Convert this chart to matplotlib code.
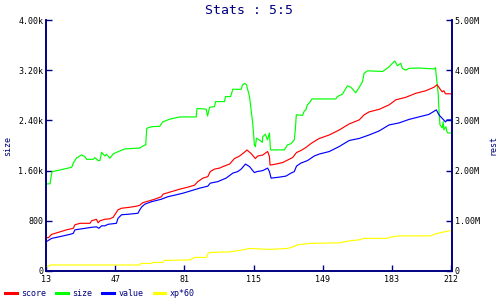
import matplotlib
matplotlib.use("Agg")
import matplotlib.pyplot as plt

navy = "#000080"

size_x = [13, 15, 15.8, 16, 19.9, 24.8, 25.7, 26.4, 28, 30.5, 32.1, 32.9, 36.2, 37, 38.6, 39.5,
          40.3, 41.9, 42.7, 44.4, 46, 48.4, 51.7, 59.1, 61.5, 62, 62.5, 64.9, 68.9, 70.3, 73.8,
          78.7, 86.8, 87.2, 91.7, 92.4, 93.4, 95.8, 96.3, 100.7, 101.2, 103.7, 104.8, 108.9,
          109.5, 110.5, 111.5, 113, 113.8, 114.6, 115.4, 115.9, 116.4, 117.9, 119.3, 119.5,
          120.8, 121.8, 122.8, 123.3, 130.1, 130.9, 131.6, 133.4, 135, 135.5, 136, 139.1,
          139.9, 140.7, 141.4, 142.4, 143.7, 155.4, 156.2, 158.7, 161.1, 162.8, 165.2, 166,
          168.5, 169.3, 171, 178.3, 180, 181.6, 182.9, 184.4, 185.7, 186.5, 187.3, 188.1,
          189.7, 191.4, 196.3, 203.6, 204.4, 204.8, 205.7, 206.1, 206.6, 207.7, 208.2, 208.5,
          209.5, 210, 210.5, 212]
size_y = [1387, 1390, 1560, 1583, 1610, 1647, 1655, 1720, 1800, 1850, 1822, 1780, 1780, 1806,
          1760, 1760, 1892, 1833, 1860, 1797, 1865, 1902, 1945, 1960, 2008, 2010, 2275, 2300,
          2306, 2375, 2420, 2455, 2455, 2590, 2580, 2470, 2610, 2620, 2700, 2700, 2780, 2780,
          2896, 2896, 2960, 2990, 2970, 2780, 2566, 2350, 2008, 1980, 2115, 2090, 2050, 2140,
          2180, 2090, 2200, 1930, 1930, 1970, 2008, 2030, 2090, 2250, 2490, 2480, 2550, 2570,
          2646, 2680, 2742, 2742, 2780, 2820, 2950, 2930, 2840, 2880, 3015, 3150, 3190, 3180,
          3215, 3255, 3300, 3347, 3270, 3290, 3310, 3230, 3200, 3230, 3235, 3220, 3240, 3100,
          2830, 2560, 2330, 2280, 2380, 2250, 2300, 2220, 2200, 2200]

score_x = [13, 14.1, 15.8, 19.9, 23.1, 26.4, 27.2, 29.7, 34.6, 35.4, 37.8, 38.6, 39.5, 41.9,
           44.4, 46, 48.4, 50.1, 54.2, 57.4, 59.1, 60.5, 64.8, 66.4, 69.7, 70.5, 72.9, 75.4,
           78.7, 82.7, 86, 87.6, 90.1, 92.5, 93.7, 95.8, 98.3, 99.9, 103.2, 105.6, 108.1,
           109.7, 111.8, 113.8, 115.9, 117, 119.5, 121.9, 122.8, 123.1, 126, 129.3, 131.7,
           134.2, 136.1, 138.3, 140.7, 143.2, 145.6, 147.3, 152.2, 157.1, 162, 166.9, 169.3,
           171.8, 176.7, 181.6, 184.9, 189.8, 194.7, 199.6, 203.6, 205.2, 206.9, 207.7, 208.5,
           209.3, 212]
score_y = [0.67, 0.66, 0.73, 0.78, 0.82, 0.85, 0.92, 0.95, 0.95, 1.00, 1.03, 0.96, 1.00, 1.03,
           1.04, 1.07, 1.22, 1.25, 1.27, 1.29, 1.31, 1.36, 1.41, 1.43, 1.48, 1.53, 1.56, 1.59,
           1.63, 1.67, 1.71, 1.78, 1.85, 1.88, 1.98, 2.03, 2.05, 2.08, 2.13, 2.24, 2.29, 2.34,
           2.41, 2.34, 2.24, 2.29, 2.31, 2.38, 2.28, 2.11, 2.13, 2.16, 2.21, 2.26, 2.36, 2.40,
           2.46, 2.54, 2.60, 2.64, 2.71, 2.81, 2.93, 3.01, 3.11, 3.17, 3.22, 3.31, 3.41, 3.46,
           3.54, 3.59, 3.66, 3.71, 3.61, 3.57, 3.59, 3.53, 3.53]

value_x = [13, 15.8, 18.2, 21.5, 24.8, 26.4, 27.2, 30.5, 35.4, 37.8, 39, 40.3, 41.9, 43.5,
           47.6, 48.4, 50.1, 53.3, 58.2, 59.1, 59.9, 61.5, 64.8, 69.7, 72.9, 76.2, 80.3, 83.6,
           88.5, 92.5, 93.7, 97.4, 101.5, 104.8, 107.2, 108.9, 111, 113, 115.4, 116.6, 119.5,
           121.9, 122.8, 123.6, 127.7, 130.9, 133.4, 135, 136.1, 138.3, 141.5, 144.8, 147.3,
           152.2, 157.1, 162, 166.9, 171.8, 176.7, 181.6, 186.5, 191.4, 196.3, 201.2, 204.8,
           206.1, 207.7, 209.3, 210.1, 212]
value_y = [0.58, 0.65, 0.67, 0.70, 0.73, 0.75, 0.82, 0.84, 0.87, 0.88, 0.85, 0.90, 0.90, 0.93,
           0.95, 1.05, 1.12, 1.13, 1.15, 1.22, 1.27, 1.33, 1.38, 1.43, 1.48, 1.51, 1.55, 1.59,
           1.65, 1.69, 1.75, 1.78, 1.85, 1.95, 1.98, 2.03, 2.13, 2.08, 1.96, 1.98, 2.00, 2.05,
           1.98, 1.85, 1.87, 1.89, 1.95, 1.98, 2.09, 2.15, 2.20, 2.29, 2.33, 2.38, 2.48, 2.60,
           2.64, 2.71, 2.79, 2.91, 2.95, 3.02, 3.07, 3.12, 3.21, 3.11, 3.04, 2.97, 3.01, 3.01]

xp_x = [13, 14, 15, 59.1, 59.6, 64.8, 65.3, 70.5, 71, 83.6, 86, 91.9, 92.5, 93.4, 103.2, 109.7,
        113, 122.8, 131.8, 134.2, 136.7, 142.4, 157.1, 162, 166.9, 169.3, 180.7, 181.6, 186.5,
        202, 204.4, 207.7, 211, 212]
xp_y = [0.09, 0.09, 0.12, 0.12, 0.15, 0.15, 0.17, 0.17, 0.21, 0.22, 0.27, 0.27, 0.34, 0.37,
        0.38, 0.42, 0.45, 0.43, 0.45, 0.48, 0.52, 0.55, 0.56, 0.60, 0.62, 0.65, 0.65, 0.67,
        0.70, 0.70, 0.74, 0.77, 0.80, 0.80]

x_ticks = [13, 47, 81, 115, 149, 183, 212]
left_ticks = [0, 800, 1600, 2400, 3200, 4000]
left_labels = ["0", "800", "1.60k", "2.40k", "3.20k", "4.00k"]
right_ticks = [0, 1, 2, 3, 4, 5]
right_labels = ["0", "1.00M", "2.00M", "3.00M", "4.00M", "5.00M"]

plt.rcParams['font.family'] = ['DejaVu Sans Mono']

fig = plt.figure(figsize=(5, 3), dpi=100)
ax = fig.add_axes([0.092, 0.0967, 0.812, 0.8366])
ax2 = ax.twinx()

lw = 0.85
l_size, = ax.plot(size_x, size_y, color="#00ff00", lw=lw, label="size")
l_score, = ax2.plot(score_x, score_y, color="#ff0000", lw=lw, label="score")
l_value, = ax2.plot(value_x, value_y, color="#0000ff", lw=lw, label="value")
l_xp, = ax2.plot(xp_x, xp_y, color="#ffff00", lw=lw, label="xp*60")

ax.set_xlim(13, 212.5)
ax.set_ylim(0, 4000)
ax2.set_ylim(0, 5)
ax.set_xticks(x_ticks)
ax.set_yticks(left_ticks)
ax.set_yticklabels(left_labels)
ax2.set_yticks(right_ticks)
ax2.set_yticklabels(right_labels)

for a in (ax, ax2):
    a.spines['top'].set_visible(False)
    for s in ('left', 'right', 'bottom'):
        a.spines[s].set_color(navy)
        a.spines[s].set_linewidth(1.2)
    a.tick_params(direction='in', length=4, width=1, color=navy, labelsize=6, pad=2)
ax.tick_params(axis='x', pad=3)

ax.set_ylabel("size", color=navy, fontsize=6, va='center')
ax.yaxis.set_label_coords(-0.094, 0.5)
ax2.set_ylabel("rest", color=navy, fontsize=6, rotation=90, va='center')
ax2.yaxis.set_label_coords(1.101, 0.5)
ax.set_title("Stats : 5:5", color=navy, fontsize=9.5, pad=4)

leg = fig.legend([l_score, l_size, l_value, l_xp], ["score", "size", "value", "xp*60"],
                 loc="lower left", bbox_to_anchor=(0.0, -0.01), ncol=4, frameon=False,
                 fontsize=6, handlelength=1.4, handletextpad=0.5, columnspacing=1.25,
                 borderaxespad=0.2)
for t in leg.get_texts():
    t.set_color(navy)
for h in leg.get_lines():
    h.set_linewidth(2.2)

fig.savefig("out.png", dpi=100)
